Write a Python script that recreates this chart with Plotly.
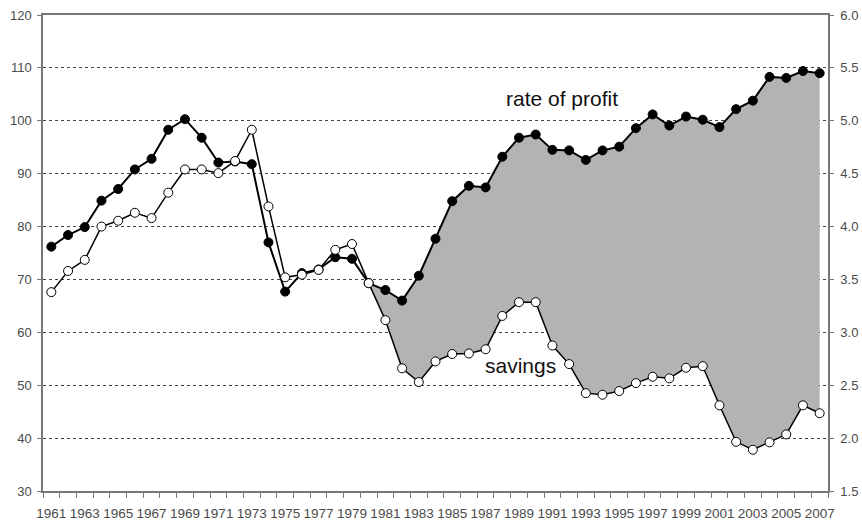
import plotly.graph_objects as go

years = list(range(1961, 2008))

rate_of_profit = [
    76.2, 78.4, 79.9, 84.9, 87.1, 90.8, 92.8, 98.3, 100.3, 96.8,
    92.1, 92.3, 91.8, 77.0, 67.7, 71.2, 71.9, 74.2, 73.9, 69.3,
    68.0, 66.0, 70.7, 77.7, 84.8, 87.7, 87.4, 93.2, 96.8, 97.4,
    94.5, 94.4, 92.6, 94.4, 95.1, 98.6, 101.2, 99.1, 100.8, 100.2,
    98.8, 102.2, 103.8, 108.3, 108.1, 109.4, 109.0,
]

savings = [
    67.6, 71.6, 73.7, 80.0, 81.1, 82.6, 81.6, 86.4, 90.8, 90.8,
    90.1, 92.4, 98.3, 83.8, 70.4, 70.9, 71.8, 75.6, 76.7, 69.3,
    62.3, 53.2, 50.6, 54.5, 55.9, 56.0, 56.8, 63.1, 65.7, 65.7,
    57.5, 54.0, 48.5, 48.2, 48.9, 50.4, 51.6, 51.3, 53.3, 53.6,
    46.2, 39.3, 37.8, 39.2, 40.7, 46.2, 44.7,
]

# shaded gap starts where the two lines cross in 1980
fill_start = years.index(1980)
label_years = [str(y) for y in years[::2]]

fig = go.Figure()

# gray band between savings and profit
fig.add_trace(go.Scatter(
    x=years[fill_start:], y=savings[fill_start:],
    mode="lines", line=dict(width=0, color="rgba(0,0,0,0)"),
    showlegend=False, hoverinfo="skip",
))
fig.add_trace(go.Scatter(
    x=years[fill_start:], y=rate_of_profit[fill_start:],
    mode="lines", line=dict(width=0, color="rgba(0,0,0,0)"),
    fill="tonexty", fillcolor="#b3b3b3",
    showlegend=False, hoverinfo="skip",
))

fig.add_trace(go.Scatter(
    x=years, y=rate_of_profit, mode="lines+markers", name="rate of profit",
    line=dict(color="#000000", width=2),
    marker=dict(size=9, color="#000000", line=dict(color="#000000", width=1)),
))
fig.add_trace(go.Scatter(
    x=years, y=savings, mode="lines+markers", name="savings",
    line=dict(color="#000000", width=1.5),
    marker=dict(size=9, color="#ffffff", line=dict(color="#000000", width=1)),
))

# empty trace so the right-hand scale gets drawn
fig.add_trace(go.Scatter(x=[], y=[], yaxis="y2", showlegend=False, hoverinfo="skip"))

fig.add_annotation(x=1991.6, y=104.2, text="rate of profit", showarrow=False,
                   font=dict(size=21, color="#111111"))
fig.add_annotation(x=1989.1, y=53.8, text="savings", showarrow=False,
                   font=dict(size=21, color="#111111"))

fig.update_layout(
    width=862,
    height=525,
    paper_bgcolor="#ffffff",
    plot_bgcolor="#ffffff",
    margin=dict(l=43, r=34, t=15, b=34),
    showlegend=False,
    font=dict(family="Liberation Sans, Arial, sans-serif", color="#4a4a4a"),
    xaxis=dict(
        range=[1960.5, 2007.5],
        automargin=False,
        tickvals=years[::2],
        ticktext=label_years,
        ticks="",
        tickfont=dict(size=13.5, family="Liberation Sans Narrow, Arial Narrow, sans-serif"),
        ticklabelstandoff=9,
        showgrid=False,
        zeroline=False,
        showline=True, linecolor="#777777", linewidth=1.5, mirror=True,
        minor=dict(tick0=1960.5, dtick=1, ticks="outside", ticklen=5,
                   tickcolor="#777777", showgrid=False),
    ),
    yaxis=dict(
        range=[30, 120],
        automargin=False,
        dtick=10,
        ticks="outside", ticklen=4, tickcolor="#777777",
        tickfont=dict(size=13),
        ticklabelstandoff=3,
        showgrid=True, gridcolor="#444444", griddash="dot", gridwidth=1,
        zeroline=False,
        showline=True, linecolor="#777777", linewidth=1.5,
    ),
    yaxis2=dict(
        range=[1.5, 6.0],
        automargin=False,
        dtick=0.5,
        tickformat=".1f",
        overlaying="y",
        side="right",
        ticks="outside", ticklen=4, tickcolor="#777777",
        tickfont=dict(size=13),
        ticklabelstandoff=4,
        showgrid=False,
        zeroline=False,
        showline=True, linecolor="#777777", linewidth=1.5,
    ),
)

fig.write_html("out.html", config={"displayModeBar": False},
               post_script="document.body.style.margin='0';")
